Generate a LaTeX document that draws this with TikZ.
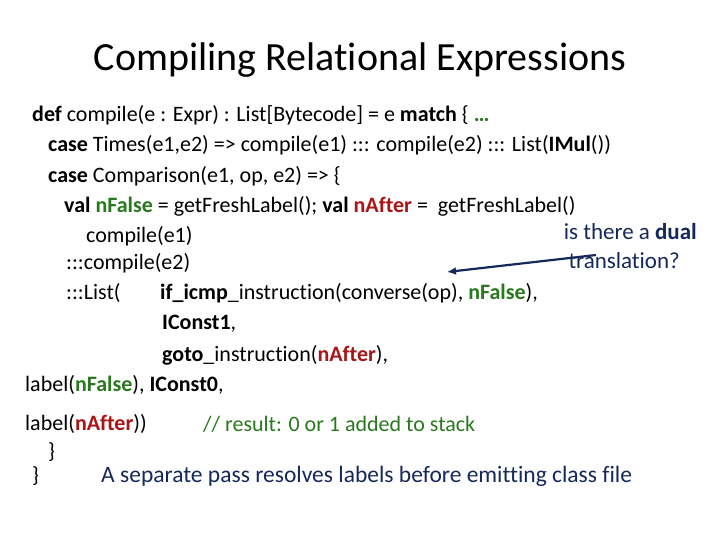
\documentclass[tikz,border=0pt]{standalone}
\usepackage{fontspec}
\setmainfont[Ligatures=NoCommon]{Carlito}
\usetikzlibrary{arrows.meta}
\definecolor{kgreen}{RGB}{40,120,30}
\definecolor{kred}{RGB}{170,20,20}
\definecolor{knavy}{RGB}{20,40,90}
\begin{document}
\begin{tikzpicture}[x=1pt,y=-1pt,
  code/.style={anchor=west,inner sep=0pt,font=\fontsize{22}{26}\selectfont},
  note/.style={anchor=east,inner sep=0pt,text=knavy,font=\fontsize{23}{27}\selectfont}]
\useasboundingbox (0,0) rectangle (720,540);
\newcommand\G[1]{\textcolor{kgreen}{\textbf{#1}}}
\newcommand\R[1]{\textcolor{kred}{\textbf{#1}}}
\node[anchor=center,inner sep=0pt,font=\fontsize{40}{46}\selectfont] (title) at (360,60) {Compiling Relational Expressions};
\node[code] (l1) at (32,115) {\textbf{def} compile(e : Expr) : List[Bytecode] = e \textbf{match} \{ \G{…}};
\node[code] (l2) at (48,145) {\textbf{case} Times(e1,e2) => compile(e1) ::: compile(e2) ::: List(\textbf{IMul}())};
\node[code] (l3) at (48,176) {\textbf{case} Comparison(e1, op, e2) => \{};
\node[code] (l4) at (64,206) {\textbf{val} \G{nFalse} = getFreshLabel(); \textbf{val} \R{nAfter} =\ \ getFreshLabel()};
\node[code] (l5) at (86,236) {compile(e1)};
\node[code] (l6) at (66,263) {:::compile(e2)};
\node[code] (l7) at (66,293) {:::List(};
\node[code] (l7b) at (160,293) {\textbf{if\_icmp}\_instruction(converse(op), \G{nFalse}),};
\node[code] (l8) at (162,324) {\textbf{IConst1},};
\node[code] (l9) at (162,355) {\textbf{goto}\_instruction(\R{nAfter}),};
\node[code] (l10) at (25,385) {label(\G{nFalse}), \textbf{IConst0},};
\node[code] (l11) at (25,424) {label(\R{nAfter}))};
\node[code,text=kgreen] (c11) at (203,424) {// result: 0 or 1 added to stack};
\node[code] (l12) at (48,452) {\}};
\node[code] (l13) at (32,476) {\}};
\node[code,text=knavy,font=\fontsize{23.5}{27}\selectfont] (sep) at (101,476) {A separate pass resolves labels before emitting class file};
\node[note] (n1) at (697,232) {is there a \textbf{dual}};
\node[note] (n2) at (680,261) {translation?};
\coordinate (as) at (596,255);
\coordinate (ae) at (447,272);
\draw[knavy,line width=2.2pt,-{Latex[length=9pt,width=8pt]}] (as) -- (ae);
\end{tikzpicture}
\end{document}
